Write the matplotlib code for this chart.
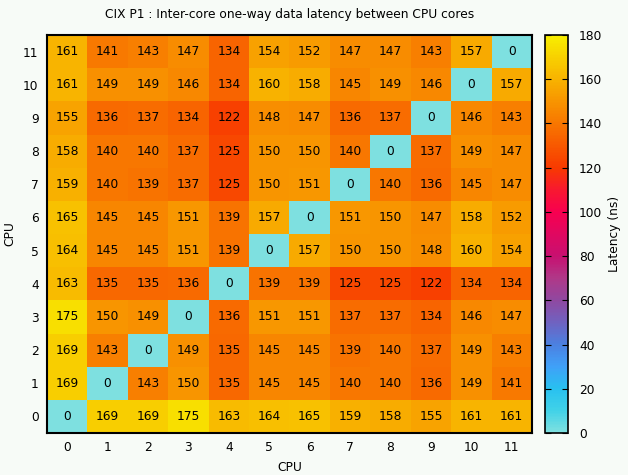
import matplotlib
matplotlib.use("Agg")
import matplotlib.pyplot as plt
import numpy as np
from matplotlib.colors import LinearSegmentedColormap

cpus = list(range(12))
# rows: CPU 0 .. 11 (y), columns: CPU 0 .. 11 (x)
row0 = [0, 169, 169, 175, 163, 164, 165, 159, 158, 155, 161, 161]
row1 = [169, 0, 143, 150, 135, 145, 145, 140, 140, 136, 149, 141]
row2 = [169, 143, 0, 149, 135, 145, 145, 139, 140, 137, 149, 143]
row3 = [175, 150, 149, 0, 136, 151, 151, 137, 137, 134, 146, 147]
row4 = [163, 135, 135, 136, 0, 139, 139, 125, 125, 122, 134, 134]
row5 = [164, 145, 145, 151, 139, 0, 157, 150, 150, 148, 160, 154]
row6 = [165, 145, 145, 151, 139, 157, 0, 151, 150, 147, 158, 152]
row7 = [159, 140, 139, 137, 125, 150, 151, 0, 140, 136, 145, 147]
row8 = [158, 140, 140, 137, 125, 150, 150, 140, 0, 137, 149, 147]
row9 = [155, 136, 137, 134, 122, 148, 147, 136, 137, 0, 146, 143]
row10 = [161, 149, 149, 146, 134, 160, 158, 145, 149, 146, 0, 157]
row11 = [161, 141, 143, 147, 134, 154, 152, 147, 147, 143, 157, 0]

latency = np.array([row0, row1, row2, row3, row4, row5, row6, row7,
                    row8, row9, row10, row11])

# palette similar to the gnuplot one in the reference
stops = [
    (0.0, "#7ee0e0"), (10 / 180, "#40d2e8"), (20 / 180, "#28c0f0"),
    (30 / 180, "#40a0f8"), (40 / 180, "#4c80e0"), (50 / 180, "#7062c0"),
    (60 / 180, "#9048a0"), (70 / 180, "#b03888"), (80 / 180, "#c81070"),
    (90 / 180, "#e00860"), (100 / 180, "#f80050"), (110 / 180, "#f81830"),
    (120 / 180, "#f83a00"), (130 / 180, "#f85800"), (140 / 180, "#f87600"),
    (150 / 180, "#f89400"), (160 / 180, "#f8b200"), (170 / 180, "#f8d000"),
    (1.0, "#f8ee00"),
]
cmap = LinearSegmentedColormap.from_list("lat", stops)

bg = "#f7fbf7"
fs = 8.8
fig = plt.figure(figsize=(6.28, 4.75), dpi=100, facecolor=bg)
ax = fig.add_axes([47 / 628, 1 - 433 / 475, 485 / 628, 398 / 475])
cax = fig.add_axes([545 / 628, 1 - 433 / 475, 23 / 628, 398 / 475])

im = ax.imshow(latency, cmap=cmap, vmin=0, vmax=180, origin="lower",
               aspect="auto", interpolation="nearest")
for i in range(12):
    for j in range(12):
        ax.text(j, i, str(latency[i, j]), ha="center", va="center",
                fontsize=fs, color="black")

ax.set_xticks(cpus)
ax.set_yticks(cpus)
ax.tick_params(length=0, labelsize=fs, pad=6)
for s in ax.spines.values():
    s.set_linewidth(1.5)
ax.set_xlabel("CPU", fontsize=fs, labelpad=5)
ax.set_ylabel("CPU", fontsize=fs, labelpad=5)
ax.set_title("CIX P1 : Inter-core one-way data latency between CPU cores",
             fontsize=fs, pad=12)

cb = fig.colorbar(im, cax=cax)
cb.set_ticks(np.arange(0, 181, 20))
cb.ax.tick_params(labelsize=fs, direction="in", length=4, pad=8,
                  left=True, right=True)
cb.outline.set_linewidth(1.2)
cb.set_label("Latency (ns)", fontsize=fs, labelpad=4)

fig.savefig("out.png", dpi=100, facecolor=bg)
